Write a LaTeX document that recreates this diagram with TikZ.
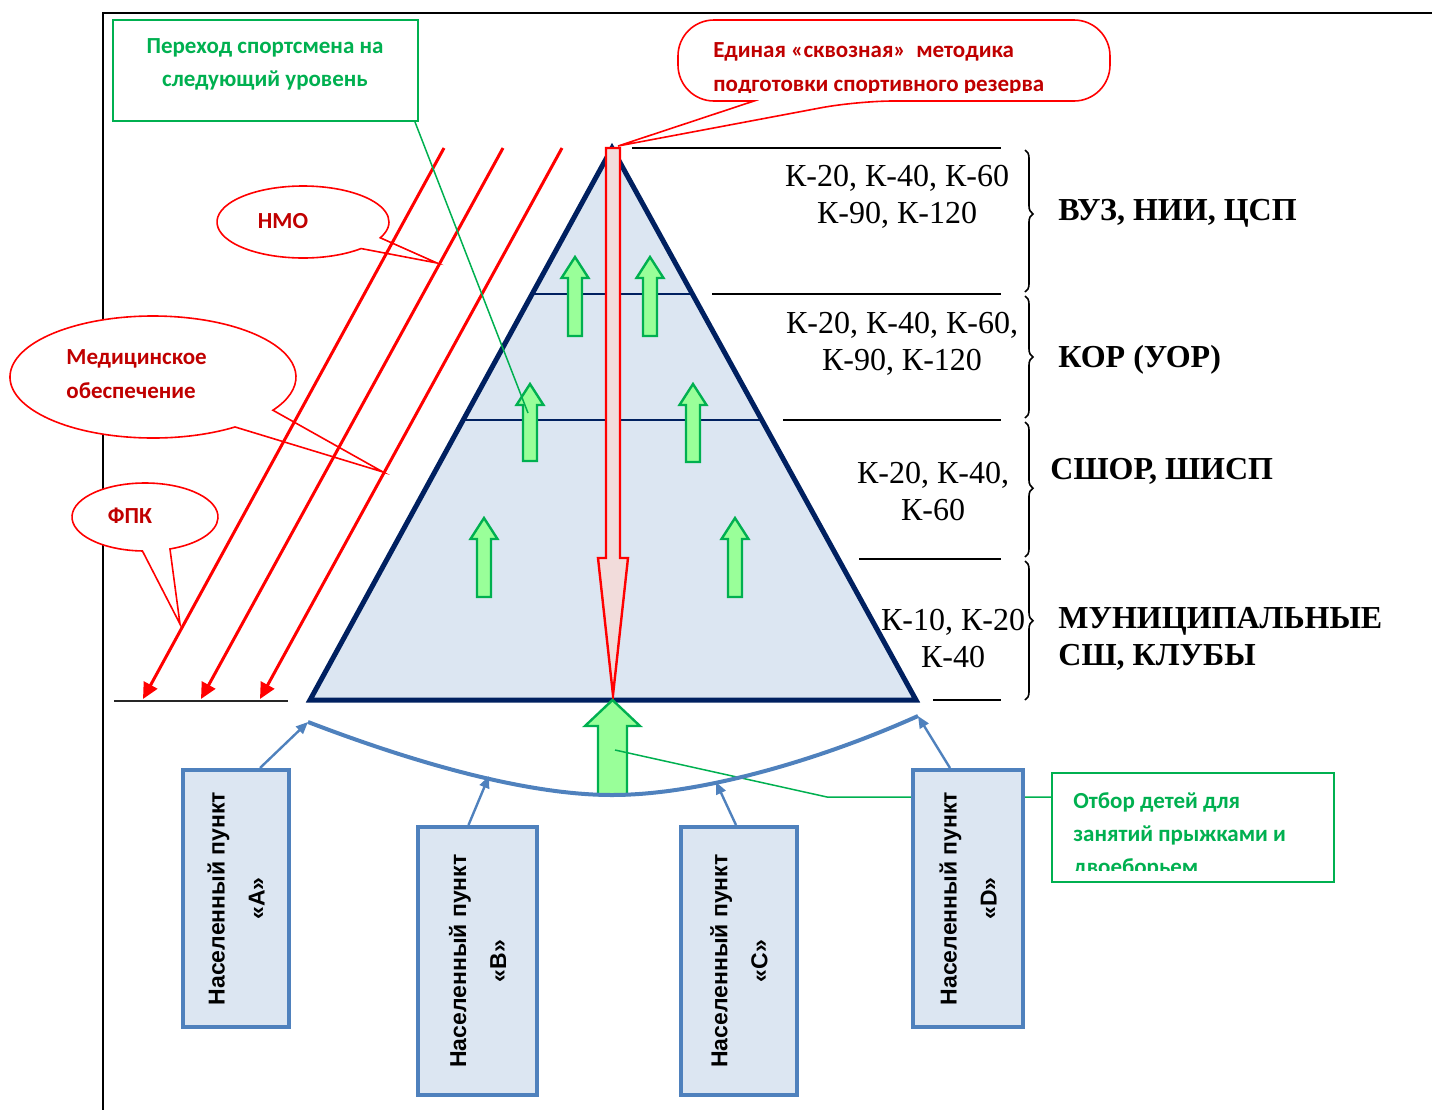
\documentclass[tikz,border=0pt]{standalone}
\usepackage{fontspec}
\setmainfont{Liberation Serif}
\newfontfamily\calfont{Carlito}
\newfontfamily\arfont{Liberation Sans}
\usetikzlibrary{arrows.meta,decorations.pathreplacing}
\definecolor{navy}{HTML}{002060}
\definecolor{pyrfill}{HTML}{DCE6F2}
\definecolor{offgreen}{HTML}{00B050}
\definecolor{litegreen}{HTML}{99FF99}
\definecolor{darkred}{HTML}{C00000}
\definecolor{pinkfill}{HTML}{F2DCDB}
\definecolor{townblue}{HTML}{4F81BD}
\definecolor{townfill}{HTML}{DCE6F2}

\begin{document}
\begin{tikzpicture}[x=0.5pt,y=-0.5pt,
  pyr/.style={draw=navy,line width=2.5pt,fill=pyrfill},
  band/.style={draw=navy,line width=1pt},
  level/.style={draw=black,line width=1pt},
  bracket/.style={decorate,decoration={brace,amplitude=4pt,aspect=#1},line width=0.8pt},
  ktext/.style={font=\fontsize{16}{18.5}\selectfont,align=center,inner sep=0pt},
  lvtext/.style={font=\fontsize{16}{18.5}\selectfont\bfseries,align=left,anchor=west,inner sep=0pt},
  uparrow/.style={draw=offgreen,line width=1.2pt,fill=litegreen},
  downarrow/.style={draw=red,line width=1.2pt,fill=pinkfill},
  feed/.style={draw=red,line width=1.5pt,-{Triangle[length=8pt,width=7.5pt]}},
  callout/.style={draw=red,line width=0.8pt,fill=white},
  calltext/.style={text=darkred,font=\calfont\bfseries\fontsize{11.5}{17}\selectfont,align=left,inner sep=0pt},
  town/.style={draw=townblue,line width=2pt,fill=townfill,rotate=90,align=center,
    font=\arfont\bfseries\fontsize{11.5}{20}\selectfont},
  feeder/.style={draw=townblue,line width=1.2pt,-{Triangle[length=6pt,width=5pt]}},
  curve/.style={draw=townblue,line width=2pt},
  gbox/.style={draw=offgreen,line width=1pt,fill=white},
  gtext/.style={text=offgreen,font=\calfont\bfseries\fontsize{11.5}{16.5}\selectfont,inner sep=0pt},
  gline/.style={draw=offgreen,line width=0.75pt}]
\useasboundingbox (0,0) rectangle (1432,1110);
\draw[line width=1pt] (103,1110) -- (103,13) -- (1432,13);

\coordinate (apex) at (612,148);
\coordinate (bl) at (310,700);
\coordinate (br) at (916,700);
\draw[pyr] (apex) -- (bl) -- (br) -- cycle;
\draw[band] (532,294) -- (692,294);
\draw[band] (463,420) -- (762,420);

\draw[level] (632,148) -- (1001,148);
\draw[level] (712,294) -- (1001,294);
\draw[level] (783,420) -- (1001,420);
\draw[level] (859,559) -- (1001,559);
\draw[level] (933,700) -- (1001,700);
\draw[bracket=0.45] (1025,150) -- (1025,292);
\draw[bracket=0.5] (1025,296) -- (1025,418);
\draw[bracket=0.49] (1025,422) -- (1025,557);
\draw[bracket=0.43] (1025,561) -- (1025,700);

\node[ktext] (k1) at (897,197) {К-20, К-40, К-60\\К-90, К-120};
\node[lvtext] (l1) at (1058,213) {ВУЗ, НИИ, ЦСП};
\node[ktext] (k2) at (902,344) {К-20, К-40, К-60,\\К-90, К-120};
\node[lvtext] (l2) at (1058,360) {КОР (УОР)};
\node[ktext] (k3) at (933,492) {К-20, К-40,\\К-60};
\node[lvtext] (l3) at (1050,471) {СШОР, ШИСП};
\node[ktext] (k4) at (953,639) {К-10, К-20\\К-40};
\node[lvtext] (l4) at (1058,639) {МУНИЦИПАЛЬНЫЕ\\СШ, КЛУБЫ};

\draw[uparrow] (568,336) -- (568,278) -- (561.5,278) -- (575,257) -- (588.5,278) -- (582,278) -- (582,336) -- cycle;
\draw[uparrow] (643,336) -- (643,278) -- (636.5,278) -- (650,257) -- (663.5,278) -- (657,278) -- (657,336) -- cycle;
\draw[uparrow] (523,461) -- (523,405) -- (516.5,405) -- (530,384) -- (543.5,405) -- (537,405) -- (537,461) -- cycle;
\draw[uparrow] (686,462) -- (686,405) -- (679.5,405) -- (693,384) -- (706.5,405) -- (700,405) -- (700,462) -- cycle;
\draw[uparrow] (477,597) -- (477,539) -- (470.5,539) -- (484,518) -- (497.5,539) -- (491,539) -- (491,597) -- cycle;
\draw[uparrow] (728,597) -- (728,539) -- (721.5,539) -- (735,518) -- (748.5,539) -- (742,539) -- (742,597) -- cycle;
\draw[downarrow] (606,148) -- (620,148) -- (620,558) -- (628,558) -- (613,695) -- (598,558) -- (606,558) -- cycle;

\draw[callout,rounded corners=18pt] (754,101) -- (678,101) -- (678,20) -- (1110,20) -- (1110,101) -- (857,101) [sharp corners] -- (618,146) -- cycle;
\begin{scope}
\clip (678,20) rectangle (1110,92);
\node[calltext,anchor=west] (method) at (713,69) {Единая «сквозная»~ методика\\подготовки спортивного резерва};
\end{scope}

\draw[callout] (303,222) ++(47.5:86 and 36) arc[start angle=47.5,end angle=386,x radius=86,y radius=36] -- (437,263) -- cycle;
\node[calltext] (nmo) at (283,221) {НМО};
\draw[callout] (153,377) ++(55:143 and 61) arc[start angle=55,end angle=393,x radius=143,y radius=61] -- (383,472) -- cycle;
\node[calltext,anchor=west] (med) at (66,374) {Медицинское\\обеспечение};
\draw[callout] (145,517) ++(92:73 and 34) arc[start angle=92,end angle=430,x radius=73,y radius=34] -- (180,624) -- cycle;
\node[calltext] (fpk) at (130,516) {ФПК};

\coordinate (f1) at (143,699);
\coordinate (f2) at (201,699);
\coordinate (f3) at (260,699);
\draw[feed] (444,148) -- (f1);
\draw[feed] (503,148) -- (f2);
\draw[feed] (562,148) -- (f3);
\draw[line width=1pt,black!85] (114,701) -- (288,701);

\node[gbox,minimum width=152.5pt,minimum height=50.5pt] (stepbox) at (265.5,70.5) {};
\node[gtext,align=center] (steptext) at (265,64) {Переход спортсмена на\\следующий уровень};
\coordinate (up3) at (528,413);
\draw[gline] ([xshift=-2pt]stepbox.south east) -- (up3);

\draw[uparrow] (598,795) -- (598,726) -- (585,726) -- (612.5,700) -- (640,726) -- (627,726) -- (627,795) -- cycle;
\coordinate (pick) at (615,750);
\coordinate (bend) at (827,797);
\node[gbox,minimum width=141pt,minimum height=54.5pt] (selbox) at (1193,827.5) {};
\draw[gline] (pick) -- (bend) -- (bend -| selbox.west);
\begin{scope}
\clip (1052,773) rectangle (1334,870);
\node[gtext,align=left,anchor=west] (seltext) at (1073,835) {Отбор детей для\\занятий прыжками и\\двоеборьем};
\end{scope}

\coordinate (cA) at (308,722);
\coordinate (cM) at (612,795);
\coordinate (cD) at (918,716);
\coordinate (cB) at (489,776);
\coordinate (cC) at (716,782);
\draw[curve] (cA) .. controls (420,765) and (530,795) .. (cM) .. controls (700,795) and (820,760) .. (cD);

\node[town,minimum width=128.5pt,minimum height=53pt] (townA) at (236,898.5) {Населенный пункт\\«A»};
\node[town,minimum width=134pt,minimum height=59.5pt] (townB) at (477.5,961) {Населенный пункт\\«B»};
\node[town,minimum width=134pt,minimum height=58pt] (townC) at (739,961) {Населенный пункт\\«C»};
\node[town,minimum width=128.5pt,minimum height=55pt] (townD) at (968,898.5) {Населенный пункт\\«D»};
\draw[feeder] ([xshift=12pt]townA.east) -- (cA);
\draw[feeder] ([xshift=-4.5pt]townB.east) -- (cB);
\draw[feeder] ([xshift=-1.5pt]townC.east) -- (cC);
\draw[feeder] ([xshift=-9pt]townD.east) -- (cD);
\end{tikzpicture}
\end{document}
